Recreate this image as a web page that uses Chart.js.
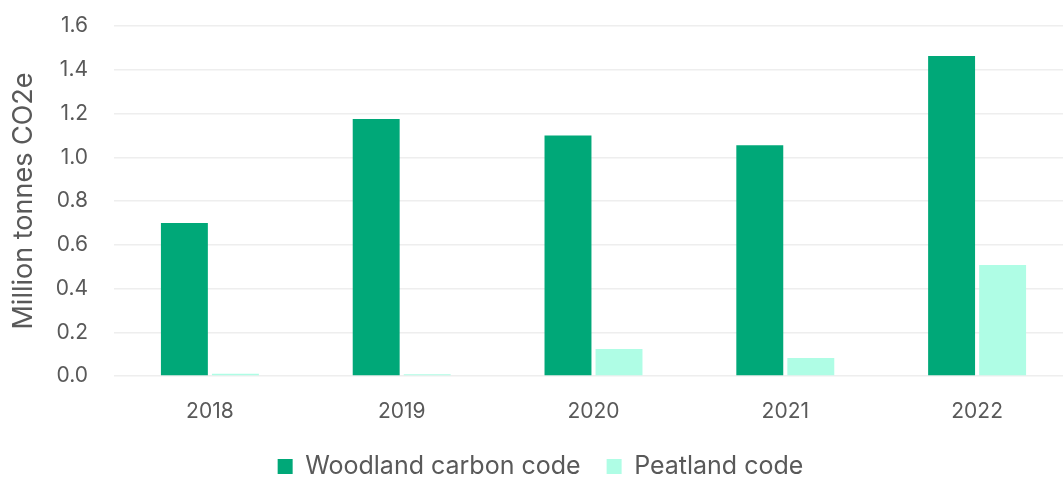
<!DOCTYPE html>
<html>
<head>
<meta charset="utf-8">
<script src="https://cdn.jsdelivr.net/npm/chart.js@4"></script>
<style>
html,body{margin:0;padding:0;background:#fff;overflow:hidden;}
#wrap{width:1080px;height:489px;position:relative;}
</style>
</head>
<body>
<div id="wrap"><canvas id="c"></canvas></div>
<script>
const categories = ["2018", "2019", "2020", "2021", "2022"];
const woodland = [0.70, 1.175, 1.10, 1.055, 1.463];
const peatland = [0.010, 0.008, 0.123, 0.082, 0.507];
const seriesNames = ["Woodland carbon code", "Peatland code"];
const yTitle = "Million tonnes CO2e";

const FONT = "Inter, 'Open Sans', sans-serif";
const TXT = "#595959";

new Chart(document.getElementById('c'), {
  type: 'bar',
  data: {
    labels: categories,
    datasets: [
      {label: seriesNames[0], data: woodland, backgroundColor: '#00A878', borderWidth: 0},
      {label: seriesNames[1], data: peatland, backgroundColor: '#AFFDE5', borderWidth: 0}
    ]
  },
  options: {
    responsive: true,
    maintainAspectRatio: false,
    animation: false,
    layout: {padding: {top: 26, right: 7, left: 8, bottom: 0}},
    datasets: {bar: {categoryPercentage: 0.532, barPercentage: 0.92}},
    plugins: {
      tooltip: {enabled: false},
      legend: {
        position: 'bottom',
        labels: {
          font: {family: FONT, size: 25},
          color: TXT,
          boxWidth: 15, boxHeight: 15,
          padding: 26
        }
      }
    },
    scales: {
      x: {
        afterFit: s => { s.height = 52; },
        grid: {display: false, drawTicks: false},
        border: {display: false},
        ticks: {font: {family: FONT, size: 21}, color: TXT, padding: 23}
      },
      y: {
        min: 0, max: 1.6,
        afterFit: s => { s.width = 106; s.paddingTop = 0; s.paddingBottom = 0; },
        grid: {color: '#eeeeee', lineWidth: 1.5, drawTicks: false},
        border: {display: false},
        ticks: {stepSize: 0.2, font: {family: FONT, size: 21}, color: TXT, padding: 26,
                callback: v => Number(v).toFixed(1)},
        title: {display: true, text: yTitle, font: {family: FONT, size: 27}, color: TXT, padding: {top: 0, bottom: 0}}
      }
    }
  }
});
</script>
</body>
</html>
